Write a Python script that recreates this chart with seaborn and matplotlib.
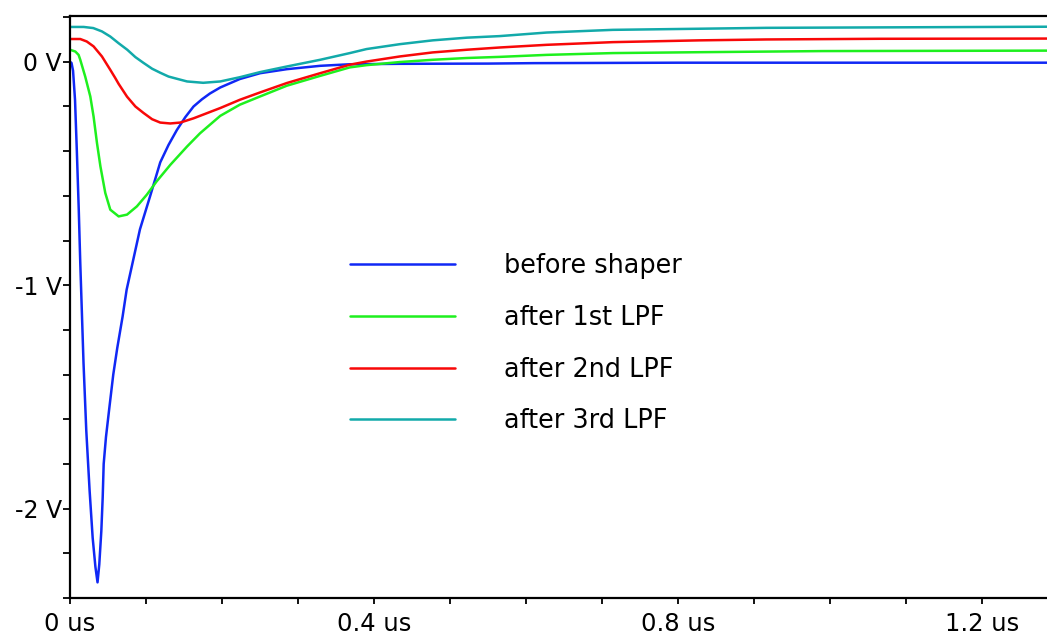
import numpy as np
import pandas as pd
import matplotlib
matplotlib.use("Agg")
import matplotlib.pyplot as plt
from matplotlib.ticker import MultipleLocator, FixedLocator, FixedFormatter
import seaborn as sns

# Shaper response: time in microseconds, output in volts
series_names = ["before shaper", "after 1st LPF", "after 2nd LPF", "after 3rd LPF"]

t_before = [0.000, 0.002, 0.004, 0.0066, 0.009, 0.0115, 0.0135, 0.0157, 0.0178, 0.0214,
            0.0258, 0.0298, 0.0334, 0.0362, 0.0385, 0.0412, 0.0430, 0.0443, 0.0473, 0.0517,
            0.0569, 0.0622, 0.0692, 0.0745, 0.0810, 0.0920, 0.1055, 0.1187, 0.1296, 0.1406,
            0.1516, 0.1625, 0.1735, 0.184, 0.1976, 0.2234, 0.2501, 0.2852, 0.329, 0.368,
            0.434, 0.55, 0.61, 0.8, 1.0, 1.285]
v_before = [0.000, -0.005, -0.04, -0.17, -0.40, -0.66, -0.90, -1.13, -1.35, -1.65,
            -1.92, -2.13, -2.26, -2.33, -2.25, -2.10, -1.95, -1.80, -1.68, -1.55,
            -1.40, -1.28, -1.14, -1.02, -0.92, -0.75, -0.60, -0.45, -0.372, -0.305,
            -0.248, -0.20, -0.168, -0.142, -0.115, -0.077, -0.051, -0.033, -0.018, -0.011,
            -0.009, -0.008, -0.006, -0.004, -0.004, -0.004]

t_lpf1 = [0.000, 0.007, 0.0113, 0.0135, 0.020, 0.0267, 0.031, 0.0355, 0.040, 0.0464,
          0.053, 0.064, 0.075, 0.088, 0.101, 0.114, 0.132, 0.154, 0.171, 0.1976,
          0.2234, 0.2501, 0.2852, 0.329, 0.368, 0.390, 0.434, 0.477, 0.522, 0.565,
          0.627, 0.714, 0.828, 0.99, 1.285]
v_lpf1 = [0.054, 0.046, 0.031, 0.009, -0.066, -0.155, -0.245, -0.364, -0.468, -0.587,
          -0.662, -0.692, -0.684, -0.647, -0.595, -0.535, -0.461, -0.379, -0.32, -0.242,
          -0.192, -0.155, -0.107, -0.063, -0.025, -0.015, -0.001, 0.009, 0.017, 0.022,
          0.031, 0.039, 0.043, 0.048, 0.050]

t_lpf2 = [0.000, 0.0135, 0.022, 0.031, 0.0376, 0.042, 0.053, 0.0596, 0.064, 0.075,
          0.086, 0.0967, 0.108, 0.1187, 0.1318, 0.145, 0.1625, 0.1976, 0.2234, 0.2501,
          0.2852, 0.329, 0.368, 0.390, 0.434, 0.477, 0.522, 0.565, 0.627, 0.714,
          0.828, 0.916, 1.064, 1.285]
v_lpf2 = [0.102, 0.102, 0.091, 0.069, 0.042, 0.024, -0.036, -0.073, -0.099, -0.156,
          -0.20, -0.229, -0.257, -0.272, -0.276, -0.272, -0.253, -0.207, -0.170, -0.137,
          -0.095, -0.051, -0.013, 0.001, 0.024, 0.042, 0.054, 0.064, 0.076, 0.088,
          0.096, 0.100, 0.103, 0.104]

t_lpf3 = [0.000, 0.018, 0.0306, 0.042, 0.053, 0.064, 0.0753, 0.086, 0.0963, 0.108,
          0.1187, 0.1296, 0.1406, 0.154, 0.1752, 0.1976, 0.2234, 0.2501, 0.2852, 0.329,
          0.368, 0.390, 0.434, 0.477, 0.522, 0.565, 0.627, 0.714, 0.828, 0.916,
          1.064, 1.285]
v_lpf3 = [0.156, 0.156, 0.151, 0.136, 0.113, 0.083, 0.054, 0.021, -0.004, -0.031,
          -0.049, -0.066, -0.076, -0.088, -0.094, -0.088, -0.069, -0.046, -0.021, 0.009,
          0.039, 0.057, 0.079, 0.096, 0.108, 0.115, 0.131, 0.143, 0.148, 0.152,
          0.154, 0.157]

line_colors = ["#1028f5", "#1ef01e", "#f80808", "#12aaaa"]

x_ticks = [0.0, 0.4, 0.8, 1.2]
x_tick_labels = ["0 us", "0.4 us", "0.8 us", "1.2 us"]
y_ticks = [-2.0, -1.0, 0.0]
y_tick_labels = ["-2 V", "-1 V", "0 V"]

frames = []
for name, t, v in zip(series_names,
                      [t_before, t_lpf1, t_lpf2, t_lpf3],
                      [v_before, v_lpf1, v_lpf2, v_lpf3]):
    frames.append(pd.DataFrame({"time": t, "voltage": v, "signal": name}))
data = pd.concat(frames, ignore_index=True)

sns.set_style("ticks")
plt.rcParams["font.family"] = ["DejaVu Sans"]

fig = plt.figure(figsize=(10.47, 6.34), dpi=100)
ax = fig.add_axes([70 / 1047, 1 - 598 / 634, 1 - 70 / 1047, (598 - 16) / 634])

sns.lineplot(data=data, x="time", y="voltage", hue="signal",
             hue_order=series_names, palette=line_colors,
             linewidth=1.8, errorbar=None, ax=ax)

ax.set_xlim(0, 1.285)
ax.set_ylim(-2.4, 0.205)
ax.set_xlabel("")
ax.set_ylabel("")

ax.xaxis.set_major_locator(FixedLocator(x_ticks))
ax.xaxis.set_major_formatter(FixedFormatter(x_tick_labels))
ax.xaxis.set_minor_locator(MultipleLocator(0.1))
ax.yaxis.set_major_locator(FixedLocator(y_ticks))
ax.yaxis.set_major_formatter(FixedFormatter(y_tick_labels))
ax.yaxis.set_minor_locator(MultipleLocator(0.2))

ax.tick_params(axis="both", which="both", direction="out", width=1.3, color="black")
ax.tick_params(axis="y", which="both", length=5)
ax.tick_params(axis="x", which="both", length=4)
ax.tick_params(axis="y", which="major", labelsize=17, pad=1, labelcolor="black")
ax.tick_params(axis="x", which="major", labelsize=17.5, pad=6, labelcolor="black")

for side in ("left", "bottom", "top"):
    ax.spines[side].set_linewidth(1.6)
    ax.spines[side].set_color("black")
ax.spines["right"].set_visible(False)

handles, labels = ax.get_legend_handles_labels()
leg = ax.legend(handles, labels, loc="upper left",
                bbox_to_anchor=(350 / 1047, 1 - 253 / 634), bbox_transform=fig.transFigure,
                frameon=False, fontsize=18.4, handlelength=4.1, handletextpad=1.92,
                labelspacing=1.01, borderpad=0, borderaxespad=0)
for text in leg.get_texts():
    text.set_color("black")

fig.savefig("out.png", dpi=100)
